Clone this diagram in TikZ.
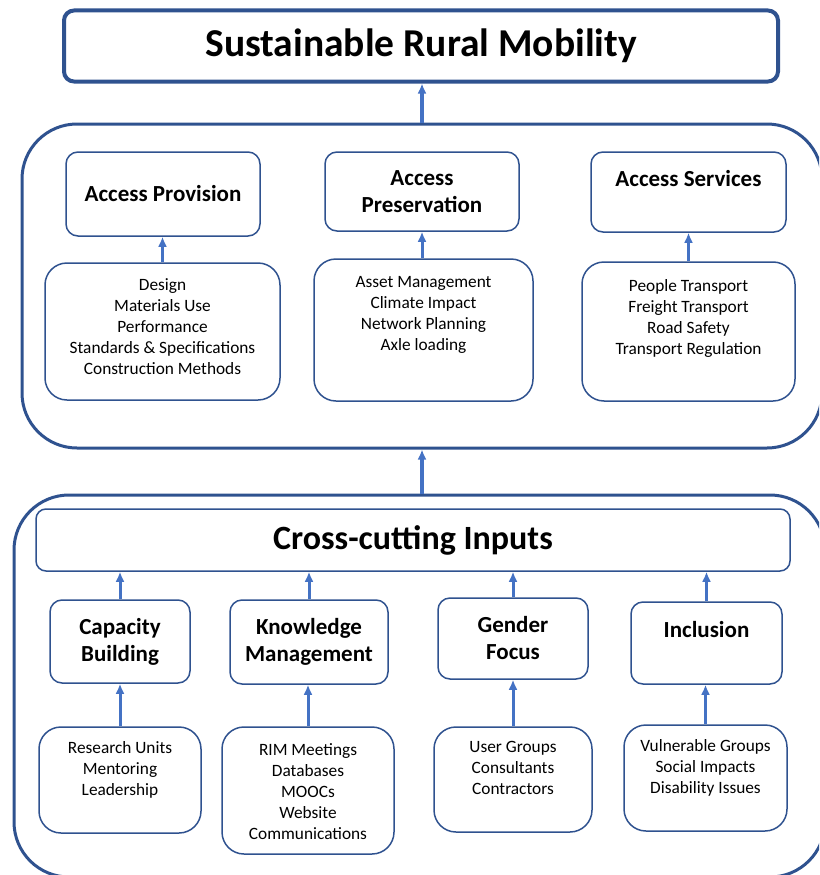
\documentclass[tikz,border=0pt]{standalone}
\usepackage{fontspec}
\setmainfont{Carlito}
\usetikzlibrary{arrows.meta,positioning}
\definecolor{edge}{RGB}{47,82,143}
\definecolor{flow}{RGB}{68,114,196}

\begin{document}
\begin{tikzpicture}[x=1pt,y=-1pt,>={Latex[length=10pt,width=9pt]},
  box/.style={draw=edge,line width=1.5pt,rounded corners=12pt,align=center,inner sep=0pt},
  head/.style={box,font=\fontsize{23}{27}\selectfont\bfseries},
  list/.style={box,rounded corners=22pt},
  items/.style={align=center,inner sep=0pt,font=\fontsize{17.3}{21}\selectfont},
  group/.style={draw=edge,line width=3pt,rounded corners=55pt},
  link/.style={draw=flow,line width=3pt,->}]
\clip (0,0) rectangle (819,875);

% goal
\node[box,line width=4pt,rounded corners=10pt,minimum width=714pt,minimum height=71pt,
  font=\fontsize{39.5}{46}\selectfont\bfseries] (goal) at (421,46) {Sustainable Rural Mobility};

% access block
\node[group,minimum width=800pt,minimum height=324pt] (access) at (422,286) {};
\node[head,minimum width=194pt,minimum height=84pt] (prov) at (163,194) {Access Provision};
\node[head,minimum width=194pt,minimum height=79pt] (pres) at (422,191.5) {Access\\Preservation};
\node[head,minimum width=195pt,minimum height=80pt] (serv) at (688.5,192) {Access Services\\ \mbox{}};

\node[list,minimum width=235pt,minimum height=137pt] (provl) at (162.5,331.5) {};
\node[items,below=16pt of provl.north] (provt) {Design\\Materials Use\\Performance\\Standards \& Specifications\\Construction Methods};
\node[list,minimum width=219pt,minimum height=142pt] (presl) at (423.5,330) {};
\node[items,below=18pt of presl.north] (prest) {Asset Management\\Climate Impact\\Network Planning\\Axle loading};
\node[list,minimum width=213pt,minimum height=139pt] (servl) at (688.5,331.5) {};
\node[items,below=18pt of servl.north] (servt) {People Transport\\Freight Transport\\Road Safety\\Transport Regulation};

\draw[link] (provl.north) -- (provl.north |- prov.south);
\draw[link] (presl.north -| pres) -- (pres.south);
\draw[link] (servl.north) -- (servl.north |- serv.south);

% cross-cutting block
\node[group,minimum width=811pt,minimum height=382pt] (inputs) at (419.5,686) {};
\node[box,rounded corners=10pt,minimum width=754pt,minimum height=62pt,
  font=\fontsize{34}{40}\selectfont\bfseries] (cross) at (413,540) {Cross-cutting Inputs};

\node[head,minimum width=140pt,minimum height=83pt] (cap) at (120,641.5) {Capacity\\Building};
\node[head,minimum width=158pt,minimum height=84pt] (know) at (309,642) {Knowledge\\Management};
\node[head,minimum width=150pt,minimum height=81pt] (gend) at (513,638.5) {Gender\\Focus};
\node[head,minimum width=151pt,minimum height=82pt] (incl) at (706.5,643) {Inclusion\\ \mbox{}};

\node[list,minimum width=162pt,minimum height=106pt] (capl) at (120,780) {};
\node[items,below=15pt of capl.north] (capt) {Research Units\\Mentoring\\Leadership};
\node[list,minimum width=172pt,minimum height=127pt] (knowl) at (308,790.5) {};
\node[items,below=17pt of knowl.north] (knowt) {RIM Meetings\\Databases\\MOOCs\\Website\\Communications};
\node[list,minimum width=158pt,minimum height=105pt] (gendl) at (513,779.5) {};
\node[items,below=15pt of gendl.north] (gendt) {User Groups\\Consultants\\Contractors};
\node[list,minimum width=163pt,minimum height=106pt] (incll) at (705.5,778) {};
\node[items,below=15pt of incll.north] (inclt) {Vulnerable Groups\\Social Impacts\\Disability Issues};

\draw[link] (capl.north) -- (capl.north |- cap.south);
\draw[link] (knowl.north) -- (knowl.north |- know.south);
\draw[link] (gendl.north) -- (gendl.north |- gend.south);
\draw[link] (incll.north) -- (incll.north |- incl.south);
\draw[link] (cap.north) -- (cap.north |- cross.south);
\draw[link] (know.north) -- (know.north |- cross.south);
\draw[link] (gend.north) -- (gend.north |- cross.south);
\draw[link] (incl.north) -- (incl.north |- cross.south);

% between the blocks
\draw[link,line width=4pt] (inputs.north -| access) -- (access.south);
\draw[link,line width=4pt] (access.north) -- (access.north |- goal.south);
\end{tikzpicture}
\end{document}
